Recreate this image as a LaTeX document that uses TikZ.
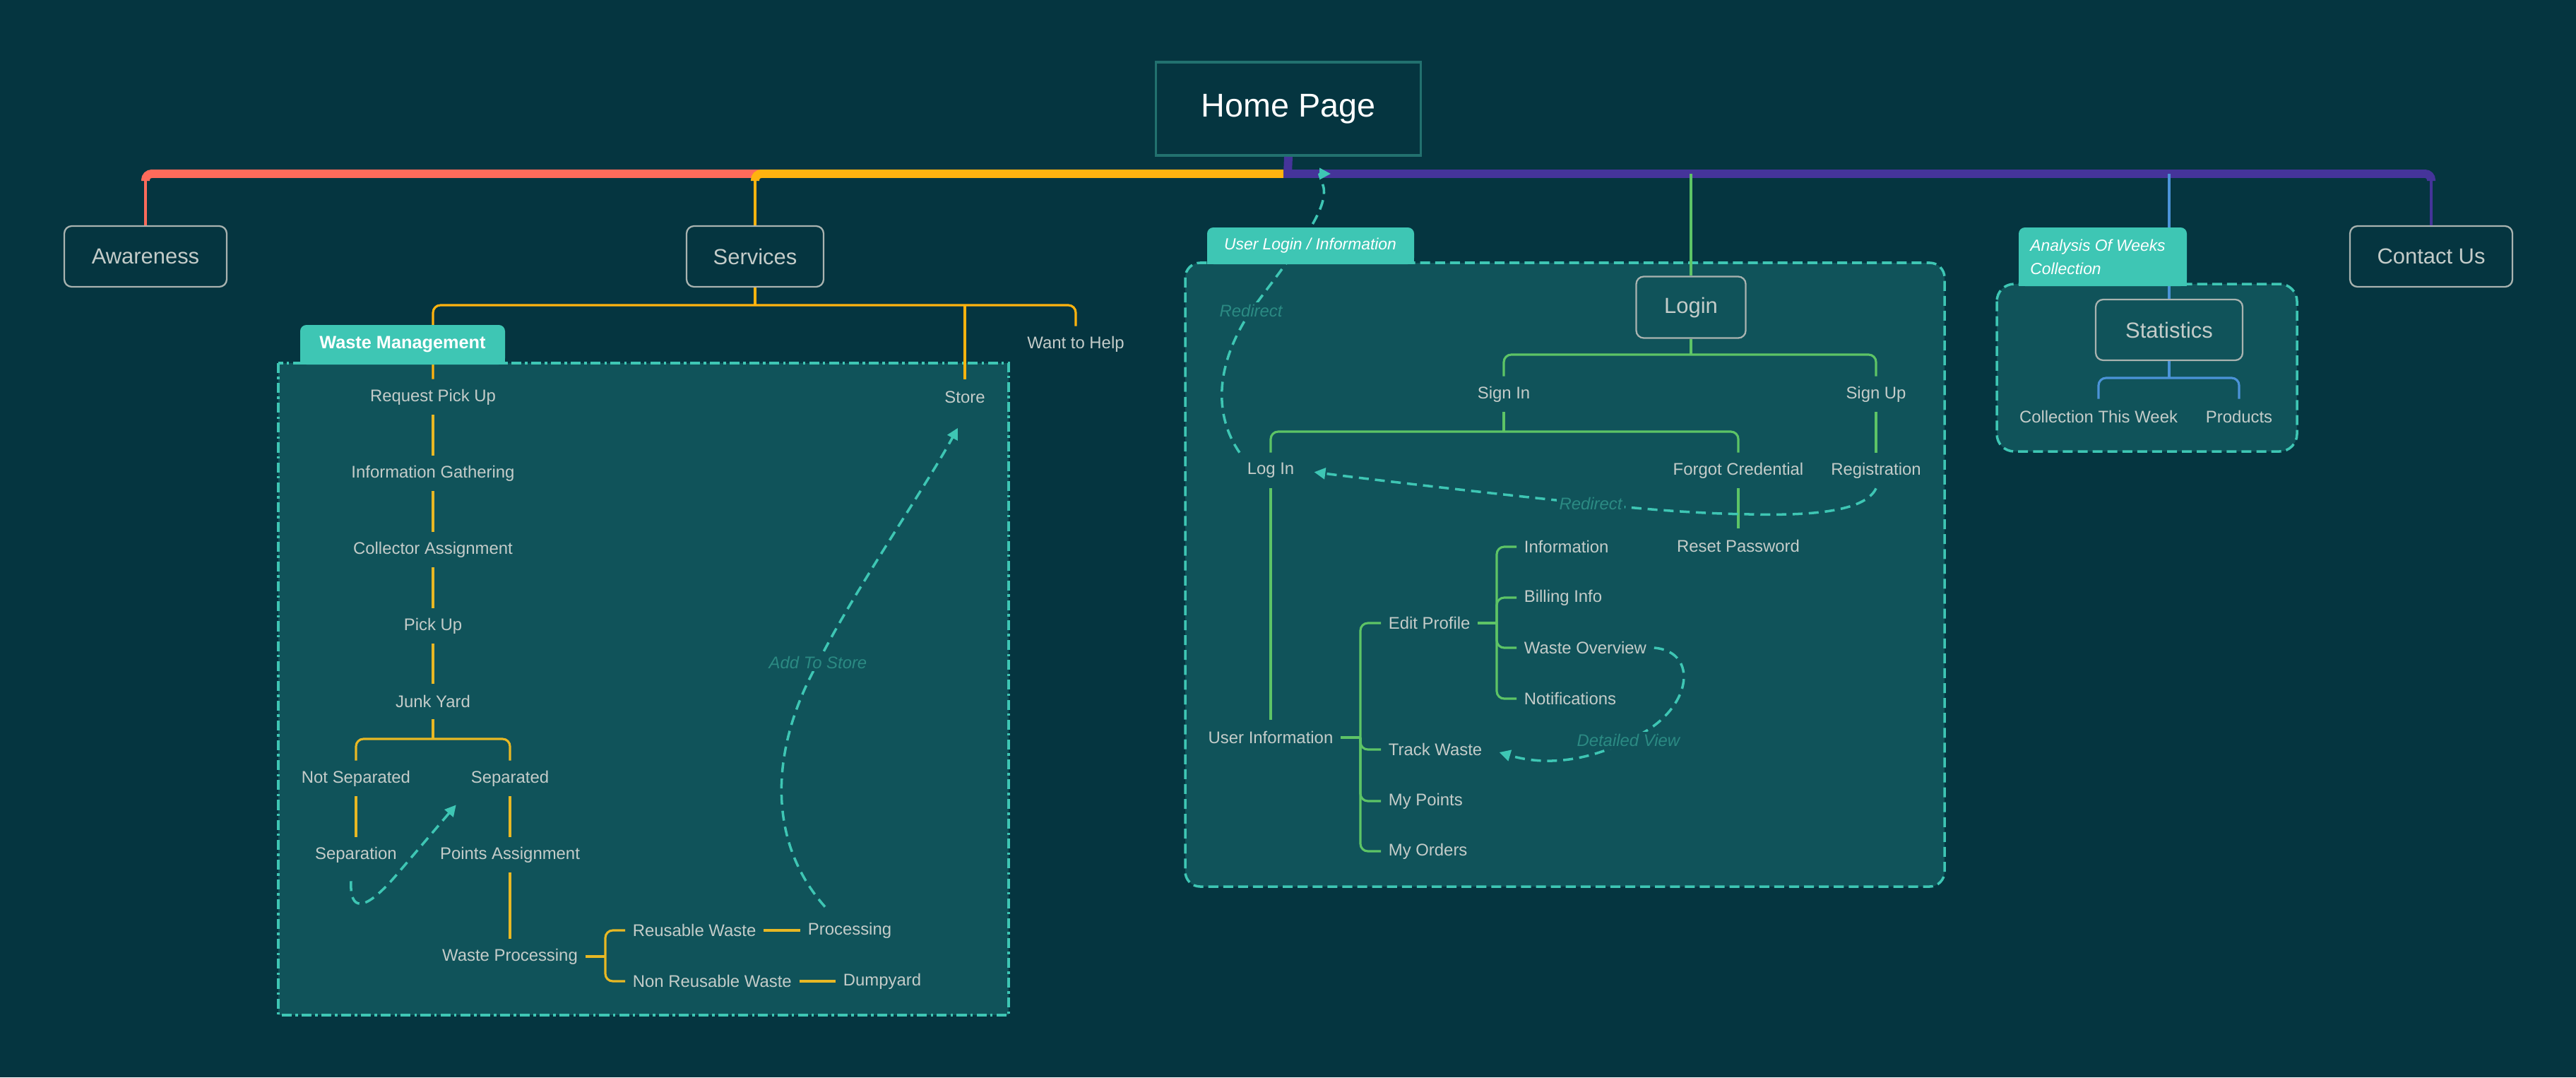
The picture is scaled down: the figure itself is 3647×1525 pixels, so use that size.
\documentclass[tikz,border=0pt]{standalone}
\usepackage{fontspec}
\setmainfont{Liberation Sans}
\usetikzlibrary{calc, arrows.meta}

\definecolor{bgc}{HTML}{053540}
\definecolor{zonec}{HTML}{10535A}
\definecolor{tealc}{HTML}{3EC6B4}
\definecolor{edgec}{HTML}{A9B3B0}
\definecolor{txtc}{HTML}{C4CCC9}
\definecolor{hintc}{HTML}{2B8A83}
\definecolor{homec}{HTML}{22716F}
\definecolor{redc}{HTML}{FF6B5B}
\definecolor{ylwc}{HTML}{FFB30F}
\definecolor{wmylw}{HTML}{E8B824}
\definecolor{purc}{HTML}{45349A}
\definecolor{grnc}{HTML}{5DC466}
\definecolor{bluc}{HTML}{4B93D8}

\tikzset{
  txt/.style={text=txtc, font=\fontsize{13.6}{16}\selectfont, inner xsep=6pt, inner ysep=0pt, minimum height=1cm},
  mainbox/.style={draw=edgec, line width=1.3pt, rounded corners=6pt, text=txtc, font=\fontsize{17.6}{21}\selectfont, minimum height=1.72cm},
  link/.style={line width=1.8pt, rounded corners=6pt},
  trunk/.style={line width=6.8pt, rounded corners=5pt},
  jump/.style={tealc, line width=2pt, dash pattern=on 8pt off 5pt, -{Triangle[length=9pt,width=9pt]}},
  hint/.style={text=hintc, font=\fontsize{13.6}{16}\selectfont\itshape, fill=zonec, inner sep=2pt},
  zone/.style={fill=zonec, draw=tealc, line width=2pt},
  tabtxt/.style={text=white, inner sep=0pt},
}

\begin{document}
\begin{tikzpicture}[x=0.02cm, y=-0.02cm]
\fill[bgc] (0,0) rectangle (3647,1525);
\useasboundingbox (0,0) rectangle (3647,1525);

% groups
\draw[zone, dash pattern=on 8pt off 3pt on 2pt off 3pt] (394,514) rectangle (1428,1437);
\draw[zone, dash pattern=on 8pt off 4pt, rounded corners=12pt] (1678,372) rectangle (2753,1255);
\draw[zone, dash pattern=on 8pt off 4pt, rounded corners=14pt] (2827,402) rectangle (3252,639);

% top level
\node[draw=homec, line width=2.2pt, minimum width=7.5cm, minimum height=2.64cm, text=white, font=\fontsize{26.6}{30}\selectfont] (home) at (1824,154) {Home Page};
\node[mainbox, minimum width=4.6cm] (awareness) at (206,363) {Awareness};
\node[mainbox, minimum width=3.88cm] (services) at (1069,363) {Services};
\node[mainbox, minimum width=4.6cm] (contact) at (3442,363) {Contact Us};
\node[mainbox, minimum width=3.1cm, minimum height=1.74cm] (loginbox) at (2394,435) {Login};
\node[mainbox, minimum width=4.16cm] (stats) at (3071,467) {Statistics};
\coordinate (hub) at (1823,246);

% waste management
\foreach \n/\t/\y in {request/Request Pick Up/562, infogath/Information Gathering/670, collector/Collector Assignment/778, pickup/Pick Up/886, junkyard/Junk Yard/993}
  \node[txt] (\n) at (613,\y) {\t};
\node[txt] (notsep) at (504,1102) {Not Separated};
\node[txt] (separated) at (722,1102) {Separated};
\node[txt] (separation) at (504,1210) {Separation};
\node[txt] (points) at (722,1210) {Points Assignment};
\node[txt] (wasteproc) at (722,1354) {Waste Processing};
\node[txt, anchor=west] (reusable) at (885,1317) {Reusable Waste};
\node[txt, anchor=west] (nonreusable) at (885,1389) {Non Reusable Waste};
\node[txt, anchor=west] (processing) at (1133,1317) {Processing};
\node[txt, anchor=west] (dumpyard) at (1183,1389) {Dumpyard};
\node[txt] (store) at (1366,562) {Store};
\node[txt] (wanthelp) at (1523,487) {Want to Help};

% user login
\node[txt] (signin) at (2129,558) {Sign In};
\node[txt] (signup) at (2656,558) {Sign Up};
\node[txt] (login) at (1799,666) {Log In};
\node[txt] (forgot) at (2461,666) {Forgot Credential};
\node[txt] (registration) at (2656,666) {Registration};
\node[txt] (reset) at (2461,773) {Reset Password};
\node[txt] (userinfo) at (1799,1044) {User Information};
\foreach \n/\t/\y in {editprofile/Edit Profile/882, trackwaste/Track Waste/1061, mypoints/My Points/1134, myorders/My Orders/1205}
  \node[txt, anchor=west] (\n) at (1955,\y) {\t};
\foreach \n/\t/\y in {information/Information/774, billing/Billing Info/846, overview/Waste Overview/917, notifications/Notifications/989}
  \node[txt, anchor=west] (\n) at (2147,\y) {\t};

% statistics
\node[txt] (collweek) at (2971,590) {Collection This Week};
\node[txt] (products) at (3170,590) {Products};

% trunk
\draw[trunk, redc] (1080,246) -| (206,256);
\draw[trunk, ylwc] (hub) -| (1069,256);
\draw[trunk, purc] (home.south) -- (hub);
\draw[trunk, purc] (1817,246) -| (3442,256);
\draw[link, redc] (awareness.north) -- (awareness.north |- hub);
\draw[link, ylwc] (services.north) -- (services.north |- hub);
\draw[link, grnc] (loginbox.north) -- (loginbox.north |- hub);
\draw[link, bluc] (stats.north) -- (stats.north |- hub);
\draw[link, purc] (contact.north) -- (contact.north |- hub);

% services links
\coordinate (svcfork) at (1069,432);
\draw[link, ylwc] (services.south) -- (svcfork);
\draw[link, ylwc] (request.north) |- (svcfork) -| (wanthelp.north);
\draw[link, ylwc] (store.north) -- (store.north |- svcfork);
\foreach \a/\b in {request/infogath, infogath/collector, collector/pickup, pickup/junkyard, notsep/separation, separated/points, points/wasteproc}
  \draw[link, wmylw] (\a.south) -- (\b.north);
\coordinate (junkfork) at (613,1046);
\draw[link, wmylw] (junkyard.south) -- (junkfork);
\draw[link, wmylw] (notsep.north) |- (junkfork) -| (separated.north);
\coordinate (wpfork) at (857,1354);
\draw[link, wmylw] (wasteproc.east) -- (wpfork);
\foreach \n in {reusable,nonreusable} \draw[link, wmylw] (wpfork) |- (\n.west);
\draw[link, wmylw] (reusable.east) -- (processing.west);
\draw[link, wmylw] (nonreusable.east) -- (dumpyard.west);

% login links
\coordinate (loginfork) at (2394,502);
\draw[link, grnc] (loginbox.south) -- (loginfork);
\draw[link, grnc] (signin.north) |- (loginfork) -| (signup.north);
\coordinate (signinfork) at (2129,611);
\draw[link, grnc] (signin.south) -- (signinfork);
\draw[link, grnc] (login.north) |- (signinfork) -| (forgot.north);
\foreach \a/\b in {signup/registration, forgot/reset, login/userinfo}
  \draw[link, grnc] (\a.south) -- (\b.north);
\coordinate (uifork) at (1926,1044);
\draw[link, grnc] (userinfo.east) -- (uifork);
\foreach \n in {editprofile,trackwaste,mypoints,myorders} \draw[link, grnc] (uifork) |- (\n.west);
\coordinate (epfork) at (2119,882);
\draw[link, grnc] (editprofile.east) -- (epfork);
\foreach \n in {information,billing,overview,notifications} \draw[link, grnc] (epfork) |- (\n.west);

% statistics links
\coordinate (statfork) at (3071,535);
\draw[link, bluc] (stats.south) -- (statfork);
\draw[link, bluc] (collweek.north) |- (statfork) -| (products.north);

% dashed jumps
\coordinate (redirend) at (1884,246);
\draw[jump] (login.north west) .. controls (1720,590) and (1718,520) .. (1771,440) node[hint] (redirtop) {Redirect}
  .. controls (1830,360) and (1880,300) .. (1874,266) .. controls (1870,250) and (1866,246) .. (redirend);
\draw[jump, shorten >=10pt] (registration.south) .. controls (2640,725) and (2560,730) .. (2477,728)
  .. controls (2400,727) and (2320,720) .. (2252,713) node[hint] (redirlow) {Redirect}
  .. controls (2150,703) and (1950,680) .. (login.east);
\draw[jump, shorten >=8pt] (overview.east) .. controls (2400,922) and (2398,990) .. (2335,1032)
  .. controls (2270,1072) and (2200,1088) .. (trackwaste.east) node[hint, pos=0.15] (detail) {Detailed View};
\draw[jump, shorten >=12pt] ($(processing.north)+(-35,-8)$) .. controls (1085,1190) and (1090,1060) .. (1158,938) node[hint] (addstore) {Add To Store}
  .. controls (1210,835) and (1310,690) .. (store.south);
\draw[jump, shorten >=9pt] ($(separation.south)+(-7,12)$) .. controls (495,1290) and (515,1292) .. (560,1240) -- (separated.south west);

% tabs
\fill[tealc, rounded corners=5pt] (425,460) rectangle (715,516);
\fill[tealc] (425,490) rectangle (715,516);
\node[tabtxt, font=\fontsize{14.4}{16}\selectfont\bfseries] (wmtab) at (570,487) {Waste Management};
\fill[tealc, rounded corners=5pt] (1709,322) rectangle (2002,374);
\fill[tealc] (1709,350) rectangle (2002,374);
\node[tabtxt, font=\fontsize{13}{16}\selectfont\itshape] (ultab) at (1855,348) {User Login / Information};
\fill[tealc, rounded corners=5pt] (2858,322) rectangle (3096,405);
\fill[tealc] (2858,370) rectangle (3096,405);
\node[tabtxt, font=\fontsize{13}{18.7}\selectfont\itshape, align=left, anchor=west] (antab) at (2874,364) {Analysis Of Weeks\\Collection};
\end{tikzpicture}
\end{document}
